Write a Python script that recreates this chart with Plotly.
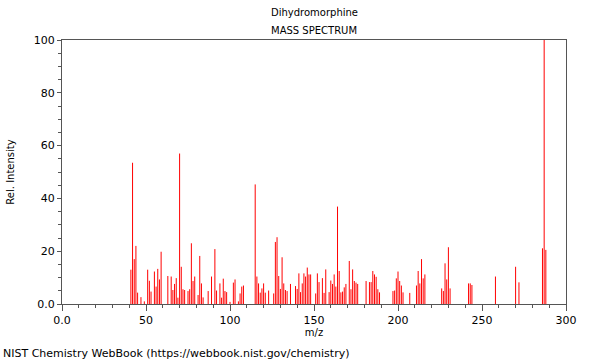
import plotly.graph_objects as go

mz = [41, 42, 43, 44, 45, 47, 49, 51, 52, 53, 55, 56, 57, 58, 59, 63, 65, 66, 67, 68,
      69, 70, 71, 72, 73, 75, 76, 77, 78, 79, 81, 82, 83, 84, 87, 89, 91, 92, 94, 95,
      96, 97, 98, 100, 102, 103, 105, 106, 107, 108, 115, 116, 117, 118, 119, 120, 121, 123, 126, 127,
      128, 129, 130, 131, 132, 133, 134, 136, 139, 140, 141, 142, 143, 144, 145, 146, 147, 148, 151, 152,
      153, 155, 156, 157, 159, 160, 161, 162, 163, 164, 165, 166, 167, 168, 169, 171, 172, 173, 174, 175,
      176, 181, 183, 184, 185, 186, 187, 188, 189, 197, 198, 199, 200, 201, 202, 203, 207, 211, 212, 213,
      214, 215, 216, 226, 227, 228, 229, 230, 231, 242, 243, 244, 258, 270, 272, 286, 287, 288]
intensity = [13, 53.5, 17, 22, 4.3, 2.6, 1, 13, 8.8, 4.7, 12.3, 6.6, 13.3, 9.3, 19.8, 10.6, 10.4, 5.3, 7.6, 9.8,
             2.4, 57, 14.1, 5.6, 5.3, 4.9, 5.6, 23, 8.7, 10.4, 3.4, 18.2, 7.8, 2.5, 4.9, 10.4, 20.8, 5.1, 7.8, 2.4,
             9.6, 4.9, 4.5, 0.8, 8.1, 9.3, 1, 4, 6.6, 7, 45.3, 10.4, 7.8, 4.3, 5.9, 7.8, 4.3, 5.1, 4, 23.5,
             25.3, 10.6, 5.7, 17.7, 7.8, 5.3, 4.9, 7.6, 6.8, 5.7, 11.6, 4.5, 7.8, 11.6, 10.4, 13.8, 11.2, 11.2, 4, 11.6,
             8.3, 9.8, 4.2, 13.1, 4.5, 8.9, 7.6, 11.2, 6.6, 36.9, 12.5, 4.4, 4.7, 6.3, 7.6, 16.3, 5.6, 13.1, 8.7, 8.1,
             7.6, 8.7, 8.3, 8.3, 12.5, 11.2, 10.3, 5.6, 4.4, 4.9, 5.1, 9.7, 12.3, 8.7, 7, 4.4, 4.2, 7, 12.5, 7.8,
             17, 9.7, 11.2, 5.9, 4.9, 15.4, 9.3, 21.5, 5.9, 7.8, 7.8, 7.2, 10.4, 14.1, 8.2, 21.1, 100, 20.5]

x_ticks = [0, 50, 100, 150, 200, 250, 300]
x_labels = ["0.0", "50", "100", "150", "200", "250", "300"]
y_ticks = [0, 20, 40, 60, 80, 100]
y_labels = ["0.0", "20", "40", "60", "80", "100"]

xs, ys = [], []
for m, v in zip(mz, intensity):
    xs += [m, m, None]
    ys += [0, v, None]

fig = go.Figure()
fig.add_trace(go.Scatter(x=xs, y=ys, mode="lines",
                         line=dict(color="rgb(255,0,0)", width=1),
                         hoverinfo="skip", showlegend=False))

font = dict(family="DejaVu Sans", size=11, color="black")
axis_common = dict(showgrid=False, zeroline=False, showline=True, linecolor="#555555",
                   linewidth=1, mirror=True, ticks="outside", tickcolor="#555555",
                   tickfont=font)

fig.update_xaxes(range=[0, 300], tickvals=x_ticks, ticktext=x_labels, ticklen=6,
                 minor=dict(dtick=10, ticks="outside", ticklen=3, tickcolor="#555555"),
                 title=dict(text="m/z", font=dict(family="DejaVu Sans", size=10, color="black"), standoff=2),
                 **axis_common)
fig.update_yaxes(range=[0, 100], tickvals=y_ticks, ticktext=y_labels, ticklen=4,
                 minor=dict(dtick=5, ticks="outside", ticklen=3, tickcolor="#555555"),
                 title=dict(text="Rel. Intensity", font=dict(family="DejaVu Sans", size=10, color="black"), standoff=17),
                 **axis_common)

fig.update_layout(
    width=600, height=360,
    margin=dict(l=62, r=34, t=40, b=56, autoexpand=False),
    paper_bgcolor="white", plot_bgcolor="white",
    font=font,
    annotations=[
        dict(text="Dihydromorphine", x=0.5, y=1, xref="paper", yref="paper",
             yshift=35, showarrow=False, font=dict(family="DejaVu Sans", size=10, color="black")),
        dict(text="MASS SPECTRUM", x=0.5, y=1, xref="paper", yref="paper",
             yshift=17, showarrow=False, font=dict(family="DejaVu Sans", size=10, color="black")),
        dict(text="NIST Chemistry WebBook (https://webbook.nist.gov/chemistry)",
             x=0, y=0, xref="paper", yref="paper", xanchor="left", yanchor="middle",
             xshift=-61, yshift=-49, showarrow=False,
             font=dict(family="DejaVu Sans", size=11, color="black")),
    ],
)

fig.write_html("out.html", config={"displayModeBar": False},
               post_script="document.body.style.margin='0';document.body.style.padding='0';")
